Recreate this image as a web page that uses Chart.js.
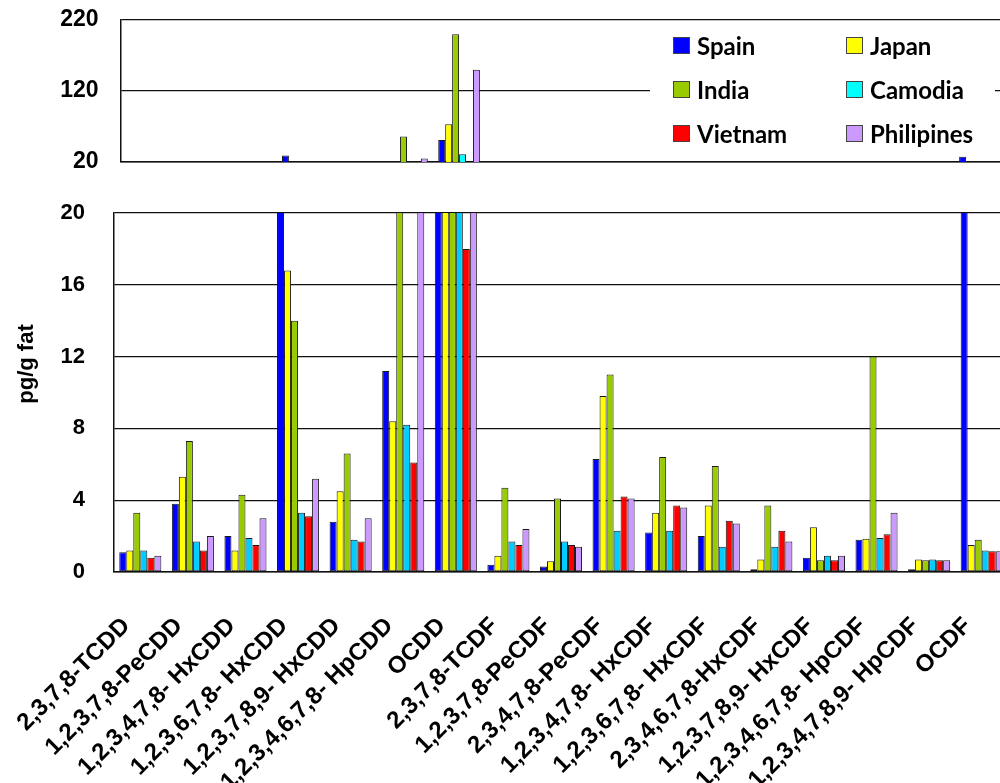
<!DOCTYPE html>
<html>
<head>
<meta charset="utf-8">
<script src="https://cdn.jsdelivr.net/npm/chart.js@4.4.1/dist/chart.umd.min.js"></script>
<style>
  html, body { margin: 0; padding: 0; background: #fff; width: 1000px; height: 783px; overflow: hidden; }
  #wrap { position: relative; width: 1000px; height: 783px; overflow: hidden; }
  #topCanvas { position: absolute; left: 0; top: 0; }
  #botCanvas { position: absolute; left: 0; top: 190px; }
</style>
</head>
<body>
<div id="wrap">
  <canvas id="topCanvas" width="1010" height="190"></canvas>
  <canvas id="botCanvas" width="1010" height="593"></canvas>
</div>
<script>
// Congeners (x categories)
const congeners = [
  '2,3,7,8-TCDD', '1,2,3,7,8-PeCDD', '1,2,3,4,7,8- HxCDD', '1,2,3,6,7,8- HxCDD',
  '1,2,3,7,8,9- HxCDD', '1,2,3,4,6,7,8- HpCDD', 'OCDD', '2,3,7,8-TCDF',
  '1,2,3,7,8-PeCDF', '2,3,4,7,8-PeCDF', '1,2,3,4,7,8- HxCDF', '1,2,3,6,7,8- HxCDF',
  '2,3,4,6,7,8-HxCDF', '1,2,3,7,8,9- HxCDF', '1,2,3,4,6,7,8- HpCDF', '1,2,3,4,7,8,9- HpCDF', 'OCDF'
];

// Country names
const seriesNames = ['Spain', 'Japan', 'India', 'Camodia', 'Vietnam', 'Philipines'];

// Concentrations, pg/g fat
const spain      = [1.1, 3.8, 2.0, 29, 2.8, 11.2, 51, 0.4, 0.3, 6.3, 2.2, 2.0, 0.15, 0.8, 1.8, 0.15, 27.5];
const japan      = [1.2, 5.3, 1.2, 16.8, 4.5, 8.4, 73, 0.9, 0.6, 9.8, 3.3, 3.7, 0.7, 2.5, 1.85, 0.7, 1.5];
const india      = [3.3, 7.3, 4.3, 14.0, 6.6, 56, 200, 4.7, 4.1, 11.0, 6.4, 5.9, 3.7, 0.65, 12.0, 0.65, 1.8];
const camodia    = [1.2, 1.7, 1.9, 3.3, 1.8, 8.2, 31, 1.7, 1.7, 2.3, 2.3, 1.4, 1.4, 0.9, 1.9, 0.7, 1.2];
const vietnam    = [0.8, 1.2, 1.5, 3.1, 1.7, 6.1, 18, 1.5, 1.5, 4.2, 3.7, 2.85, 2.3, 0.65, 2.1, 0.65, 1.15];
const philipines = [0.9, 2.0, 3.0, 5.2, 3.0, 25, 150, 2.4, 1.4, 4.1, 3.6, 2.7, 1.7, 0.9, 3.3, 0.65, 1.15];

// Axis ticks for the two panels of the broken axis
const upperTicks = [20, 120, 220];
const lowerTicks = [0, 4, 8, 12, 16, 20];

const seriesValues = [spain, japan, india, camodia, vietnam, philipines];
const upperColors = ['#0000FF', '#FFFF00', '#99CC00', '#00FFFF', '#FF0000', '#CC99FF'];
const lowerColors = ['#0000FF', '#FFFF00', '#99CC00', '#00CCFF', '#FF0000', '#CC99FF'];

const AXIS_FONT = "'Liberation Sans', Arial, sans-serif";
const LEGEND_FONT = "Lato, 'Open Sans', sans-serif";
const LINE = '#111';

function makeDatasets(colors, filter) {
  return seriesNames.map((name, i) => ({
    label: name,
    data: seriesValues[i].map(filter),
    backgroundColor: colors[i],
    borderColor: '#1a1a1a',
    borderWidth: 1,
    borderSkipped: false,
    categoryPercentage: 0.8,
    barPercentage: 1.0
  }));
}

// keep the plot area exactly where the layout padding puts it
function noOverhang(s) {
  s.paddingTop = 0; s.paddingBottom = 0; s.paddingLeft = 0; s.paddingRight = 0;
}

// Two-column legend box drawn inside the upper panel
const boxLegend = {
  id: 'boxLegend',
  afterDraw(chart) {
    const ctx = chart.ctx;
    ctx.save();
    ctx.fillStyle = '#fff';
    ctx.fillRect(650, 25, 345, 130);
    const colX = [673, 846];
    const rowY = [37, 81, 125];
    ctx.font = 'bold 24px ' + LEGEND_FONT;
    ctx.textBaseline = 'alphabetic';
    ctx.textAlign = 'left';
    chart.data.datasets.forEach((ds, i) => {
      const col = i % 2, row = Math.floor(i / 2);
      const x = colX[col], y = rowY[row];
      ctx.fillStyle = ds.backgroundColor;
      ctx.fillRect(x, y, 16, 16);
      ctx.strokeStyle = '#444';
      ctx.lineWidth = 1;
      ctx.strokeRect(x + 0.5, y + 0.5, 16, 16);
      ctx.fillStyle = '#000';
      ctx.fillText(ds.label, x + 24, y + 17.5);
    });
    ctx.restore();
  }
};

// Rotated y-axis title for the lower panel
const yTitle = {
  id: 'yTitle',
  afterDraw(chart) {
    const ctx = chart.ctx;
    ctx.save();
    ctx.translate(27, 174);
    ctx.rotate(-Math.PI / 2);
    ctx.font = 'bold 22px ' + AXIS_FONT;
    ctx.fillStyle = '#000';
    ctx.textAlign = 'center';
    ctx.textBaseline = 'middle';
    ctx.fillText('pg/g fat', 0, 0);
    ctx.restore();
  }
};

// Upper panel: 20 – 220
new Chart(document.getElementById('topCanvas'), {
  type: 'bar',
  data: { labels: congeners, datasets: makeDatasets(upperColors, v => (v > upperTicks[0] ? v : null)) },
  options: {
    responsive: false,
    animation: false,
    layout: { padding: { left: 0, top: 20, right: 4, bottom: 28 } },
    plugins: { legend: { display: false }, tooltip: { enabled: false } },
    scales: {
      x: {
        grid: { display: false },
        border: { display: true, color: LINE, width: 1.5 },
        ticks: { display: false },
        afterFit: s => { s.height = 0; noOverhang(s); }
      },
      y: {
        min: upperTicks[0],
        max: upperTicks[upperTicks.length - 1],
        afterBuildTicks: s => { s.ticks = upperTicks.map(v => ({ value: v })); },
        grid: { color: LINE, lineWidth: 1.3, drawTicks: false },
        border: { display: true, color: LINE, width: 1.5 },
        ticks: { color: '#000', font: { family: AXIS_FONT, size: 23, weight: 'bold' }, padding: 22 },
        afterFit: s => { s.width = 120.5; noOverhang(s); }
      }
    }
  },
  plugins: [boxLegend]
});

// Lower panel: 0 – 20
new Chart(document.getElementById('botCanvas'), {
  type: 'bar',
  data: { labels: congeners, datasets: makeDatasets(lowerColors, v => v) },
  options: {
    responsive: false,
    animation: false,
    layout: { padding: { left: 0, top: 23, right: 2, bottom: 0 } },
    plugins: { legend: { display: false }, tooltip: { enabled: false } },
    scales: {
      x: {
        grid: { display: false },
        border: { display: true, color: LINE, width: 1.5 },
        ticks: {
          color: '#000',
          font: { family: AXIS_FONT, size: 24, weight: 'bold' },
          autoSkip: false,
          minRotation: 45,
          maxRotation: 45,
          padding: 32,
          labelOffset: -14
        },
        afterFit: s => { s.height = 211; noOverhang(s); }
      },
      y: {
        min: lowerTicks[0],
        max: lowerTicks[lowerTicks.length - 1],
        afterBuildTicks: s => { s.ticks = lowerTicks.map(v => ({ value: v })); },
        grid: { color: LINE, lineWidth: 1.3, drawTicks: false },
        border: { display: true, color: LINE, width: 1.5 },
        ticks: { color: '#000', font: { family: AXIS_FONT, size: 22, weight: 'bold' }, padding: 29 },
        afterFit: s => { s.width = 114; noOverhang(s); }
      }
    }
  },
  plugins: [yTitle]
});
</script>
</body>
</html>
